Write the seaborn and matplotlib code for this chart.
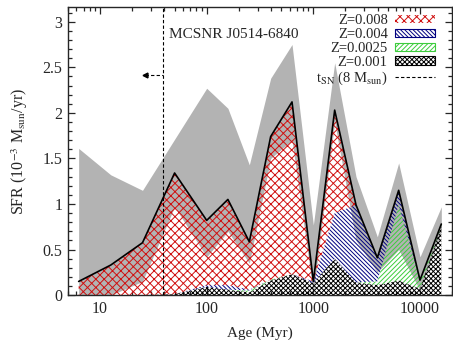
import numpy as np
import matplotlib
matplotlib.use("Agg")
import matplotlib.pyplot as plt
from matplotlib.patches import Patch
from matplotlib.lines import Line2D
import seaborn as sns

# age bins (Myr)
ages = [6.3, 12.6, 25, 50, 100, 158, 251, 398, 631, 1000, 1585, 2512, 3981, 6310, 10000, 15849]

# SFR per metallicity (10^-3 Msun/yr), stacked from the bottom
z001 = [0, 0, 0, 0.01, 0.09, 0.06, 0.03, 0.16, 0.23, 0.13, 0.40, 0.14, 0.11, 0.16, 0.07, 0.76]
z0025 = [0, 0, 0, 0, 0, 0, 0.02, 0.01, 0, 0, 0, 0, 0.04, 0.83, 0.095, 0.02]
z004 = [0, 0, 0, 0, 0.02, 0.05, 0.01, 0, 0, 0.02, 0.5, 0.85, 0.26, 0.16, 0, 0]
z008 = [0.15, 0.33, 0.575, 1.33, 0.71, 0.94, 0.525, 1.57, 1.89, 0, 1.13, 0, 0, 0, 0, 0]

# uncertainty band on the total
err_hi = [1.61, 1.32, 1.15, 1.71, 2.27, 2.05, 1.43, 2.38, 2.75, 0.77, 2.55, 1.3, 0.64, 1.45, 0.42, 0.97]
err_lo = [0.0, 0.0, 0.15, 0.97, 0.42, 0.7, 0.35, 1.5, 1.7, 0.02, 1.9, 0.6, 0.25, 0.5, 0.05, 0.7]

t_sn = 39  # lifetime of an 8 Msun star, Myr
ytick_vals = [0, 0.5, 1, 1.5, 2, 2.5, 3]
ytick_labels = ["0", "0.5", "1", "1.5", "2", "2.5", "3"]
xtick_vals = [10, 100, 1000, 10000]
xtick_labels = ["10", "100", "1000", "10000"]

sns.set_theme(style="ticks")
plt.rcParams["font.family"] = ["Liberation Serif", "DejaVu Serif"]
plt.rcParams["mathtext.fontset"] = "stix"
plt.rcParams["hatch.linewidth"] = 0.7
plt.rcParams["xtick.direction"] = "in"
plt.rcParams["ytick.direction"] = "in"

fig = plt.figure(figsize=(4.53, 3.40), dpi=100)
ax = fig.add_axes([0.150, 0.132, 0.848, 0.847])

ax.fill_between(ages, err_lo, err_hi, color="#b3b3b3", linewidth=0, zorder=1)

red_h = "xxxx"
blue_h = "\\" * 8
green_h = "/" * 7
black_h = "x" * 7

layers = [
    (z001, "black", black_h),
    (z0025, "#3ccc3c", green_h),
    (z004, "#000080", blue_h),
    (z008, "#d01010", red_h),
]
base = np.zeros(len(ages))
for vals, col, hatch in layers:
    top = base + np.array(vals)
    ax.fill_between(ages, base, top, facecolor="none", edgecolor=col,
                    hatch=hatch, linewidth=0, zorder=2)
    base = top

sns.lineplot(x=ages, y=base, color="black", linewidth=1.2, ax=ax, zorder=3)

ax.axvline(t_sn, color="black", linestyle=(0, (3, 2)), linewidth=0.8, zorder=4)
ax.plot([26.5, t_sn], [2.42, 2.42], color="black", linestyle=(0, (3, 2)), linewidth=0.8)
ax.plot([26.5], [2.42], marker="<", color="black", markersize=3.5)

ax.text(44, 2.86, "MCSNR J0514-6840", fontsize=11, va="center", ha="left")

ax.set_xscale("log")
ax.set_xlim(5, 20000)
ax.set_ylim(0, 3.16)
ax.set_xticks(xtick_vals)
ax.set_xticklabels(xtick_labels)
ax.set_yticks(ytick_vals)
ax.set_yticklabels(ytick_labels)
ax.yaxis.set_minor_locator(matplotlib.ticker.MultipleLocator(0.1))
ax.tick_params(which="both", top=True, right=True, labelsize=11.5, width=0.9)
ax.tick_params(which="major", length=5, pad=4)
ax.tick_params(which="minor", length=3)
for s in ax.spines.values():
    s.set_linewidth(1.0)

ax.set_xlabel("Age (Myr)", fontsize=11, labelpad=7)
ax.set_ylabel(r"SFR (10$^{-3}$ M$_\mathrm{sun}$/yr)", fontsize=11.5, labelpad=9)

handles = [
    Patch(facecolor="none", edgecolor="#d01010", hatch=red_h, linewidth=0),
    Patch(facecolor="none", edgecolor="#000080", hatch=blue_h, linewidth=0.8),
    Patch(facecolor="none", edgecolor="#3ccc3c", hatch=green_h, linewidth=0.8),
    Patch(facecolor="none", edgecolor="black", hatch=black_h, linewidth=0.8),
    Line2D([0], [0], color="black", linestyle=(0, (3, 2)), linewidth=0.8),
]
labels = ["Z=0.008", "Z=0.004", "Z=0.0025", "Z=0.001", r"t$_\mathrm{SN}$ (8 M$_\mathrm{sun}$)"]
ax.legend(handles, labels, loc="upper right", bbox_to_anchor=(1 - 17 / 384, 1 - 7 / 288),
          frameon=False, markerfirst=False, fontsize=10.5, handlelength=2.75,
          handleheight=0.5, labelspacing=0.06, borderpad=0, borderaxespad=0,
          handletextpad=0.5)

fig.savefig("out.png", dpi=100)
